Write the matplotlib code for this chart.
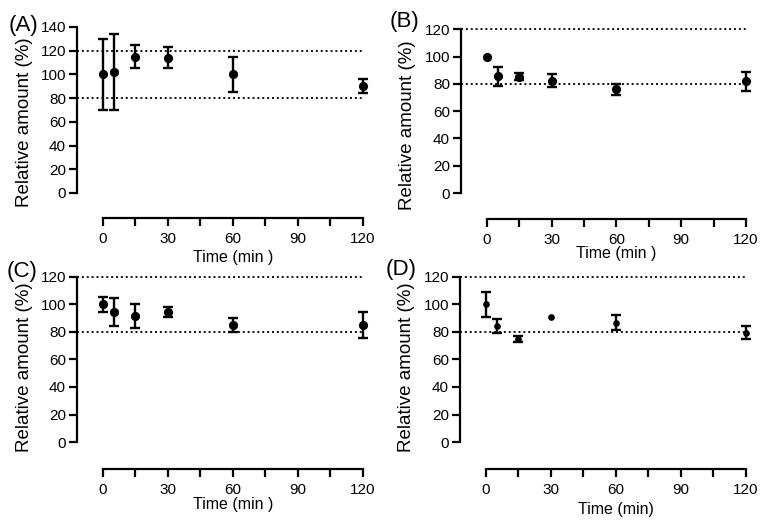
import matplotlib

matplotlib.use("Agg")
import matplotlib.pyplot as plt

plt.rcParams["font.family"] = ["Liberation Sans", "DejaVu Sans"]

# sampling times (min)
time_a = [0, 5, 15, 30, 60, 120]
mean_a = [100, 102, 115, 114, 100, 90]
err_a = [30, 32, 10, 9, 15, 6]

time_b = [0, 5, 15, 30, 60, 120]
mean_b = [100, 85.5, 85.3, 82.3, 76.2, 81.9]
err_b = [0, 7, 2.7, 4.7, 4, 7]

time_c = [0, 5, 15, 30, 60, 120]
mean_c = [100, 94.5, 91.4, 94.3, 85.1, 84.8]
err_c = [5.5, 10, 8.6, 3.6, 4.8, 9.4]

time_d = [0, 5, 15, 30, 60, 120]
mean_d = [100.2, 84.5, 74.7, 90.9, 86.8, 79.5]
err_d = [9, 5, 2.2, 0, 5.5, 4.6]

limits = [80, 120]
x_ticks = [0, 15, 30, 45, 60, 75, 90, 105, 120]
x_ticklabels = ["0", "", "30", "", "60", "", "90", "", "120"]

W, H = 767, 526
fig = plt.figure(figsize=(W / 100, H / 100), dpi=100)


def make_axes(left, right, top, bottom):
    return fig.add_axes([left / W, 1 - bottom / H, (right - left) / W, (bottom - top) / H])


panels = [
    # letter, data, axes box (px), ylim, y top, marker size, xlabel, xlabel y, ylabel x / y, letter pos
    ("(A)", time_a, mean_a, err_a, (77, 378, 21, 218), (-21.1, 145), 140, 5.6,
     "Time (min )", -0.16, (-0.146, 59.5), (9, 26)),
    ("(B)", time_b, mean_b, err_b, (461, 761, 22.5, 219), (-19.0, 125), 120, 5.6,
     "Time (min )", -0.137, (-0.15, 49.5), (390, 21)),
    ("(C)", time_c, mean_c, err_c, (77, 378, 270, 469), (-19.6, 125), 120, 5.6,
     "Time (min )", -0.14, (-0.146, 54.5), (7, 271)),
    ("(D)", time_d, mean_d, err_d, (460, 761, 270, 469), (-19.6, 125), 120, 3.8,
     "Time (min)", -0.168, (-0.15, 54.5), (386, 270)),
]

for letter, t, m, e, box, ylim, ytop, msize, xlabel, xlab_y, ylab_pos, lpos in panels:
    ax = make_axes(*box)
    ax.set_xlim(-12, 127)
    ax.set_ylim(*ylim)
    ax.hlines(limits, -12, 120, colors="black", linestyles=(0, (1.1, 1.6)), linewidth=1.3)

    with_err = [i for i, v in enumerate(e) if v > 0]
    ax.errorbar([t[i] for i in with_err], [m[i] for i in with_err], yerr=[e[i] for i in with_err],
                fmt="none", ecolor="black", elinewidth=1.7, capsize=3.4, capthick=1.7, zorder=3)
    ax.plot(t, m, "o", color="black", markersize=msize, zorder=4)

    for side in ["top", "right"]:
        ax.spines[side].set_visible(False)
    for side in ["left", "bottom"]:
        ax.spines[side].set_linewidth(1.6)
    ax.spines["left"].set_bounds(0, ytop)
    ax.spines["bottom"].set_bounds(0, 120)

    ax.set_yticks(range(0, ytop + 1, 20))
    ax.set_xticks(x_ticks)
    ax.set_xticklabels(x_ticklabels)
    ax.tick_params(direction="out", length=6, width=1.6, labelsize=11, pad=2)
    ax.tick_params(axis="x", pad=4)

    ax.set_xlabel(xlabel, fontsize=11.5)
    ax.xaxis.set_label_coords(60, xlab_y, transform=ax.get_xaxis_transform())
    ax.set_ylabel("Relative amount (%)", fontsize=13.5)
    ax.yaxis.set_label_coords(ylab_pos[0], ylab_pos[1], transform=ax.get_yaxis_transform())

    fig.text(lpos[0] / W, 1 - lpos[1] / H, letter, fontsize=16, ha="left", va="center")

fig.savefig("out.png", dpi=100)
